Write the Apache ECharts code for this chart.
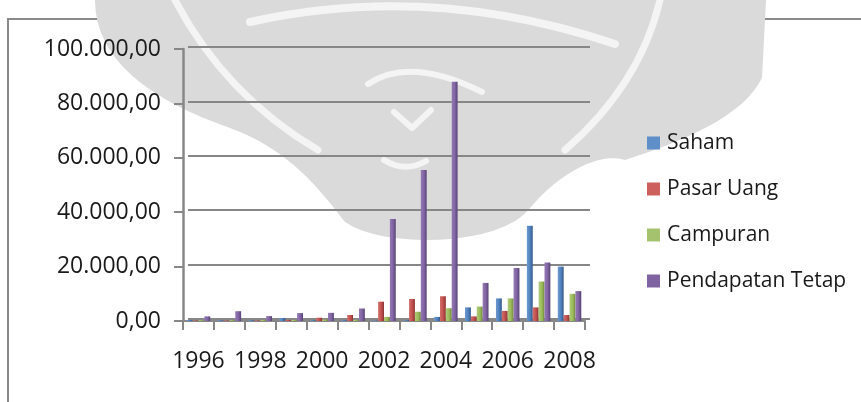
<!DOCTYPE html>
<html>
<head>
<meta charset="utf-8">
<script src="https://cdn.jsdelivr.net/npm/echarts@6/dist/echarts.min.js"></script>
<style>
  html, body { margin: 0; padding: 0; background: #ffffff; }
  #chart { width: 861px; height: 402px; }
</style>
</head>
<body>
<div id="chart"></div>
<script>
// Reksa dana per jenis, 1996-2008
const years = ['1996', '1997', '1998', '1999', '2000', '2001', '2002', '2003', '2004', '2005', '2006', '2007', '2008'];
const saham = [400, 300, 300, 1100, 300, 300, 200, 300, 1500, 5000, 8300, 35000, 20000];
const pasarUang = [200, 200, 200, 400, 1200, 2200, 7100, 8100, 9100, 1700, 3700, 5000, 2200];
const campuran = [300, 300, 400, 400, 500, 400, 1500, 3400, 4700, 5300, 8300, 14500, 10000];
const pendapatanTetap = [1700, 3600, 1800, 2900, 3000, 4600, 37500, 55500, 88000, 14000, 19500, 21500, 11000];
const seriesNames = ['Saham', 'Pasar Uang', 'Campuran', 'Pendapatan Tetap'];
const yMax = 100000;
const yStep = 20000;

const FONT = '"Open Sans", "Noto Sans", sans-serif';
const GRID_GRAY = '#878787';
const MARK_GRAY = '#dadada';
const MARK_LIGHT = '#f4f4f4';

// light-to-dark fill across each bar for a shaded column look
function shade(light, base, dark) {
  return new echarts.graphic.LinearGradient(0, 0, 1, 0, [
    { offset: 0, color: light },
    { offset: 0.55, color: base },
    { offset: 1, color: dark }
  ]);
}
const palette = [
  { legend: '#5f8fc9', fill: shade('#6f9ad0', '#4f81bd', '#34598a') },
  { legend: '#cd5f5c', fill: shade('#d46f6c', '#c0504d', '#8c3532') },
  { legend: '#a5c36f', fill: shade('#b0cb7c', '#9bbb59', '#6f883c') },
  { legend: '#8064a2', fill: shade('#9479b4', '#8064a2', '#574275') }
];

// number format with "." thousands and "," decimals
function fmt(v) {
  const s = Math.round(v).toString().replace(/\B(?=(\d{3})+(?!\d))/g, '.');
  return s + ',00';
}

const data = [saham, pasarUang, campuran, pendapatanTetap];

// ---- faint page emblem behind the chart ----
// outline built from cubic segments, flattened into polygon points
function flattenCubics(start, segs, steps) {
  const pts = [start];
  let p0 = start;
  segs.forEach(s => {
    const [c1, c2, p3] = s;
    for (let k = 1; k <= steps; k++) {
      const t = k / steps, u = 1 - t;
      pts.push([
        u * u * u * p0[0] + 3 * u * u * t * c1[0] + 3 * u * t * t * c2[0] + t * t * t * p3[0],
        u * u * u * p0[1] + 3 * u * u * t * c1[1] + 3 * u * t * t * c2[1] + t * t * t * p3[1]
      ]);
    }
    p0 = p3;
  });
  return pts;
}
const emblemOutline = flattenCubics([95, 0], [
  [[95, 60], [150, 100], [230, 128]],
  [[290, 150], [320, 190], [345, 222]],
  [[380, 248], [500, 248], [530, 208]],
  [[560, 172], [600, 152], [625, 160]],
  [[680, 142], [742, 118], [762, 78]]
], 16).concat([[766, 0]]);

function curve(x1, y1, cx, cy, x2, y2, w) {
  return {
    type: 'bezierCurve',
    shape: { x1: x1, y1: y1, cpx1: cx, cpy1: cy, x2: x2, y2: y2 },
    style: { fill: null, stroke: MARK_LIGHT, lineWidth: w, lineCap: 'round' }
  };
}
const emblem = {
  type: 'group',
  z: -30,
  silent: true,
  children: [
    { type: 'polygon', shape: { points: emblemOutline }, style: { fill: MARK_GRAY } },
    curve(250, 22, 430, -18, 615, 44, 8),
    curve(368, 84, 410, 56, 482, 92, 6),
    {
      type: 'polyline',
      shape: { points: [[394, 112], [412, 128], [431, 110]] },
      style: { fill: null, stroke: MARK_LIGHT, lineWidth: 6, lineCap: 'round', lineJoin: 'round' }
    },
    curve(384, 160, 405, 173, 426, 161, 6),
    curve(175, 0, 225, 95, 318, 150, 7),
    curve(660, 0, 640, 85, 565, 150, 7)
  ]
};

const chart = echarts.init(document.getElementById('chart'), null, { renderer: 'canvas' });
chart.setOption({
  animation: false,
  backgroundColor: '#ffffff',
  textStyle: { fontFamily: FONT },
  graphic: [
    emblem,
    {
      type: 'rect',
      z: -10,
      shape: { x: 8, y: 19, width: 900, height: 500 },
      style: { fill: 'none', stroke: '#8a8a8a', lineWidth: 2 }
    },
    // short run of the category axis to the left of the value axis
    {
      type: 'line',
      z: 5,
      shape: { x1: 175, y1: 321, x2: 184, y2: 321 },
      style: { stroke: GRID_GRAY, lineWidth: 2 }
    }
  ],
  legend: {
    orient: 'vertical',
    left: 642,
    top: 127,
    itemWidth: 13,
    itemHeight: 13,
    itemGap: 24,
    icon: 'rect',
    data: seriesNames.map((n, i) => ({ name: n, itemStyle: { color: palette[i].legend } })),
    textStyle: { fontFamily: FONT, fontSize: 21, color: '#1a1a1a', lineHeight: 22, padding: [0, 0, 0, 2] }
  },
  grid: [
    // front plane: axes, labels and columns
    { left: 183, top: 49, width: 402, height: 272 },
    // back wall: horizontal gridlines
    { left: 188, top: 47, width: 402, height: 272 }
  ],
  xAxis: [
    {
      type: 'category',
      gridIndex: 0,
      data: years,
      boundaryGap: true,
      axisLine: { show: true, lineStyle: { color: GRID_GRAY, width: 2 } },
      axisTick: { show: true, interval: 0, length: 9, lineStyle: { color: GRID_GRAY, width: 2 } },
      axisLabel: { interval: 1, margin: 29, fontFamily: FONT, fontSize: 23, color: '#1a1a1a' }
    },
    {
      type: 'category',
      gridIndex: 1,
      data: years,
      show: false
    }
  ],
  yAxis: [
    {
      type: 'value',
      gridIndex: 0,
      min: 0,
      max: yMax,
      interval: yStep,
      axisLine: { show: true, lineStyle: { color: GRID_GRAY, width: 2.5 } },
      axisTick: { show: true, length: 9, lineStyle: { color: GRID_GRAY, width: 2 } },
      splitLine: { show: false },
      axisLabel: { margin: 22, fontFamily: FONT, fontSize: 23, color: '#1a1a1a', formatter: fmt }
    },
    {
      type: 'value',
      gridIndex: 1,
      min: 0,
      max: yMax,
      interval: yStep,
      axisLine: { show: false },
      axisTick: { show: false },
      axisLabel: { show: false },
      splitLine: { show: true, lineStyle: { color: GRID_GRAY, width: 2 } }
    }
  ],
  series: seriesNames.map((name, i) => ({
    name: name,
    type: 'bar',
    xAxisIndex: 0,
    yAxisIndex: 0,
    data: data[i],
    barGap: '0%',
    barCategoryGap: '24%',
    itemStyle: { color: palette[i].fill }
  }))
});
</script>
</body>
</html>
